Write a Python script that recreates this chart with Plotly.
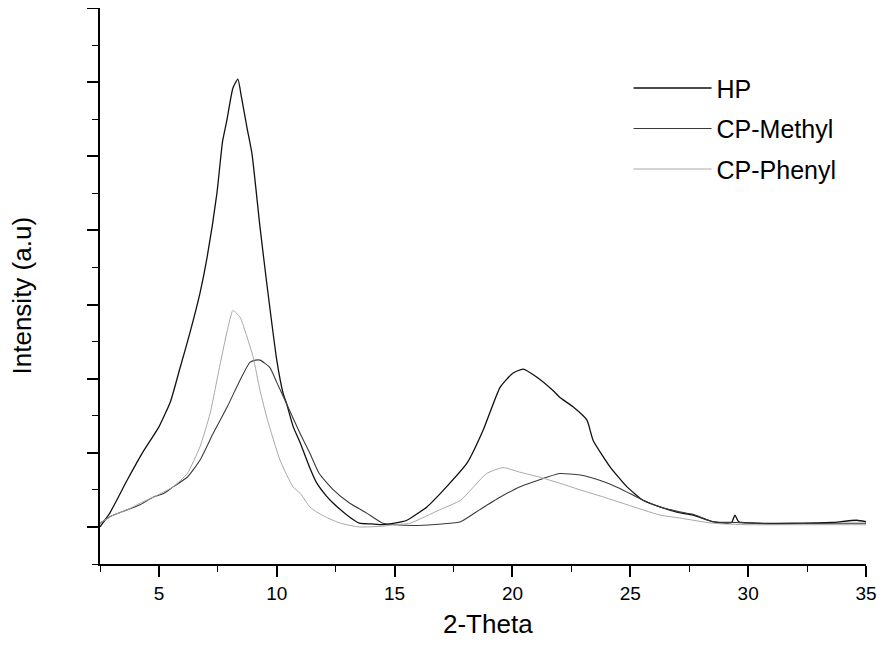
import plotly.graph_objects as go

# ---- data ----
hp_x = [2.5, 2.92, 3.65, 4.3, 5.0, 5.5, 5.9, 6.3, 6.74, 7.04, 7.46, 7.7, 7.88, 8.14, 8.35,
        8.5, 8.74, 8.95, 9.29, 9.59, 10.0, 10.27, 10.42, 10.7, 11.0, 11.4, 11.7, 12.1, 12.4,
        13.1, 13.5, 14.0, 14.5, 15.0, 15.52, 16.37, 17.2, 18.07, 18.75, 19.47, 20.0, 20.45,
        21.04, 21.72, 22.0, 22.57, 23.16, 23.42, 24.14, 24.86, 25.54, 26.26, 26.98, 27.66,
        28.5, 29.1, 29.3, 29.44, 29.6, 30.5, 32.0, 33.5, 34.6, 35.0]
hp_y = [0.0, 0.19, 0.63, 1.0, 1.35, 1.7, 2.15, 2.6, 3.15, 3.63, 4.5, 5.2, 5.48, 5.92, 6.04,
        5.8, 5.38, 5.03, 4.04, 3.25, 2.25, 1.8, 1.66, 1.35, 1.13, 0.8, 0.59, 0.42, 0.32,
        0.13, 0.05, 0.04, 0.03, 0.05, 0.09, 0.27, 0.54, 0.86, 1.3, 1.88, 2.07, 2.13,
        2.02, 1.84, 1.75, 1.62, 1.44, 1.17, 0.81, 0.54, 0.36, 0.27, 0.2, 0.16,
        0.07, 0.05, 0.06, 0.16, 0.07, 0.05, 0.05, 0.06, 0.09, 0.07]

methyl_x = [2.5, 3.0, 3.65, 4.2, 4.75, 5.2, 5.6, 6.2, 6.74, 7.3, 7.9, 8.44, 8.86, 9.1, 9.29,
            9.71, 10.0, 10.42, 10.99, 11.41, 11.8, 12.4, 13.1, 13.8, 14.5, 15.0, 16.0, 17.0,
            17.8, 18.6, 19.47, 20.3, 21.0, 21.46, 22.0, 22.87, 23.7, 24.56, 25.54, 26.26,
            27.0, 27.66, 28.5, 29.5, 31.0, 33.0, 35.0]
methyl_y = [0.05, 0.15, 0.23, 0.3, 0.4, 0.45, 0.54, 0.67, 0.9, 1.26, 1.62, 1.98, 2.22, 2.25, 2.25,
            2.15, 1.95, 1.66, 1.26, 0.99, 0.72, 0.5, 0.32, 0.19, 0.05, 0.03, 0.02, 0.04,
            0.07, 0.23, 0.4, 0.54, 0.62, 0.67, 0.72, 0.7, 0.63, 0.52, 0.36, 0.27,
            0.21, 0.17, 0.07, 0.06, 0.04, 0.05, 0.05]

phenyl_x = [2.5, 3.0, 3.65, 4.2, 4.75, 5.6, 6.2, 6.74, 7.17, 7.6, 7.9, 8.14, 8.44, 8.74, 9.0,
            9.29, 9.6, 10.14, 10.69, 11.0, 11.4, 11.7, 12.1, 12.7, 13.5, 14.5, 15.0, 15.65,
            16.9, 17.8, 18.9, 19.6, 20.3, 21.17, 22.0, 22.87, 24.0, 24.86, 26.26, 27.1,
            28.5, 30.0, 32.0, 35.0]
phenyl_y = [0.05, 0.15, 0.23, 0.32, 0.4, 0.54, 0.72, 1.08, 1.53, 2.2, 2.65, 2.92, 2.83, 2.56, 2.29,
            1.84, 1.45, 0.9, 0.54, 0.45, 0.27, 0.2, 0.13, 0.05, 0.0, 0.01, 0.03, 0.05,
            0.23, 0.36, 0.72, 0.8, 0.74, 0.67, 0.59, 0.5, 0.39, 0.3, 0.16, 0.12,
            0.05, 0.03, 0.03, 0.03]

series_names = ["HP", "CP-Methyl", "CP-Phenyl"]
x_ticks = [5, 10, 15, 20, 25, 30, 35]

FONT = "Liberation Sans, Arial, sans-serif"

fig = go.Figure()
styles = [("#111111", 1.3), ("#3a3a3a", 1.1), ("#a8a8a8", 1.0)]
for (xs, ys), name, (col, w) in zip([(hp_x, hp_y), (methyl_x, methyl_y), (phenyl_x, phenyl_y)],
                                     series_names, styles):
    fig.add_trace(go.Scatter(x=xs, y=ys, mode="lines", name=name, legendgroup=name,
                             line=dict(color=col, width=w, shape="spline", smoothing=0.5)))

fig.update_layout(
    width=880, height=633,
    margin=dict(l=92, r=22, t=0, b=77, autoexpand=False),
    paper_bgcolor="white", plot_bgcolor="white",
    font=dict(family=FONT, color="black"),
    showlegend=True,
    legend=dict(x=0.69, y=0.897, xanchor="left", yanchor="top",
                font=dict(size=25, family=FONT, color="black"),
                itemwidth=78, tracegroupgap=5, bgcolor="rgba(0,0,0,0)"),
    annotations=[
        dict(text="Intensity (a.u)", textangle=-90, xref="paper", yref="paper",
             x=-0.1018, y=0.483, xanchor="center", yanchor="middle", showarrow=False,
             font=dict(size=26, family=FONT, color="black")),
        dict(text="2-Theta", xref="paper", yref="paper",
             x=0.507, y=-0.108, xanchor="center", yanchor="middle", showarrow=False,
             font=dict(size=26, family=FONT, color="black")),
    ],
)
fig.update_xaxes(
    range=[2.5, 35], showgrid=False, zeroline=False, automargin=False,
    showline=True, linecolor="black", linewidth=2,
    tickmode="array", tickvals=x_ticks, ticktext=[str(v) for v in x_ticks],
    ticks="outside", ticklen=11, tickwidth=1.5, tickcolor="black",
    tickfont=dict(size=19, family=FONT, color="black"),
    minor=dict(dtick=2.5, tick0=0, ticks="outside", ticklen=6, tickwidth=1.2, tickcolor="black"),
)
fig.update_yaxes(
    range=[-0.5, 7], showgrid=False, zeroline=False, automargin=False,
    showline=True, linecolor="black", linewidth=2,
    dtick=1, tick0=0, showticklabels=False,
    ticks="outside", ticklen=11, tickwidth=1.5, tickcolor="black",
    minor=dict(dtick=0.5, tick0=0, ticks="outside", ticklen=6, tickwidth=1.2, tickcolor="black"),
)

fig.write_html("out.html")
